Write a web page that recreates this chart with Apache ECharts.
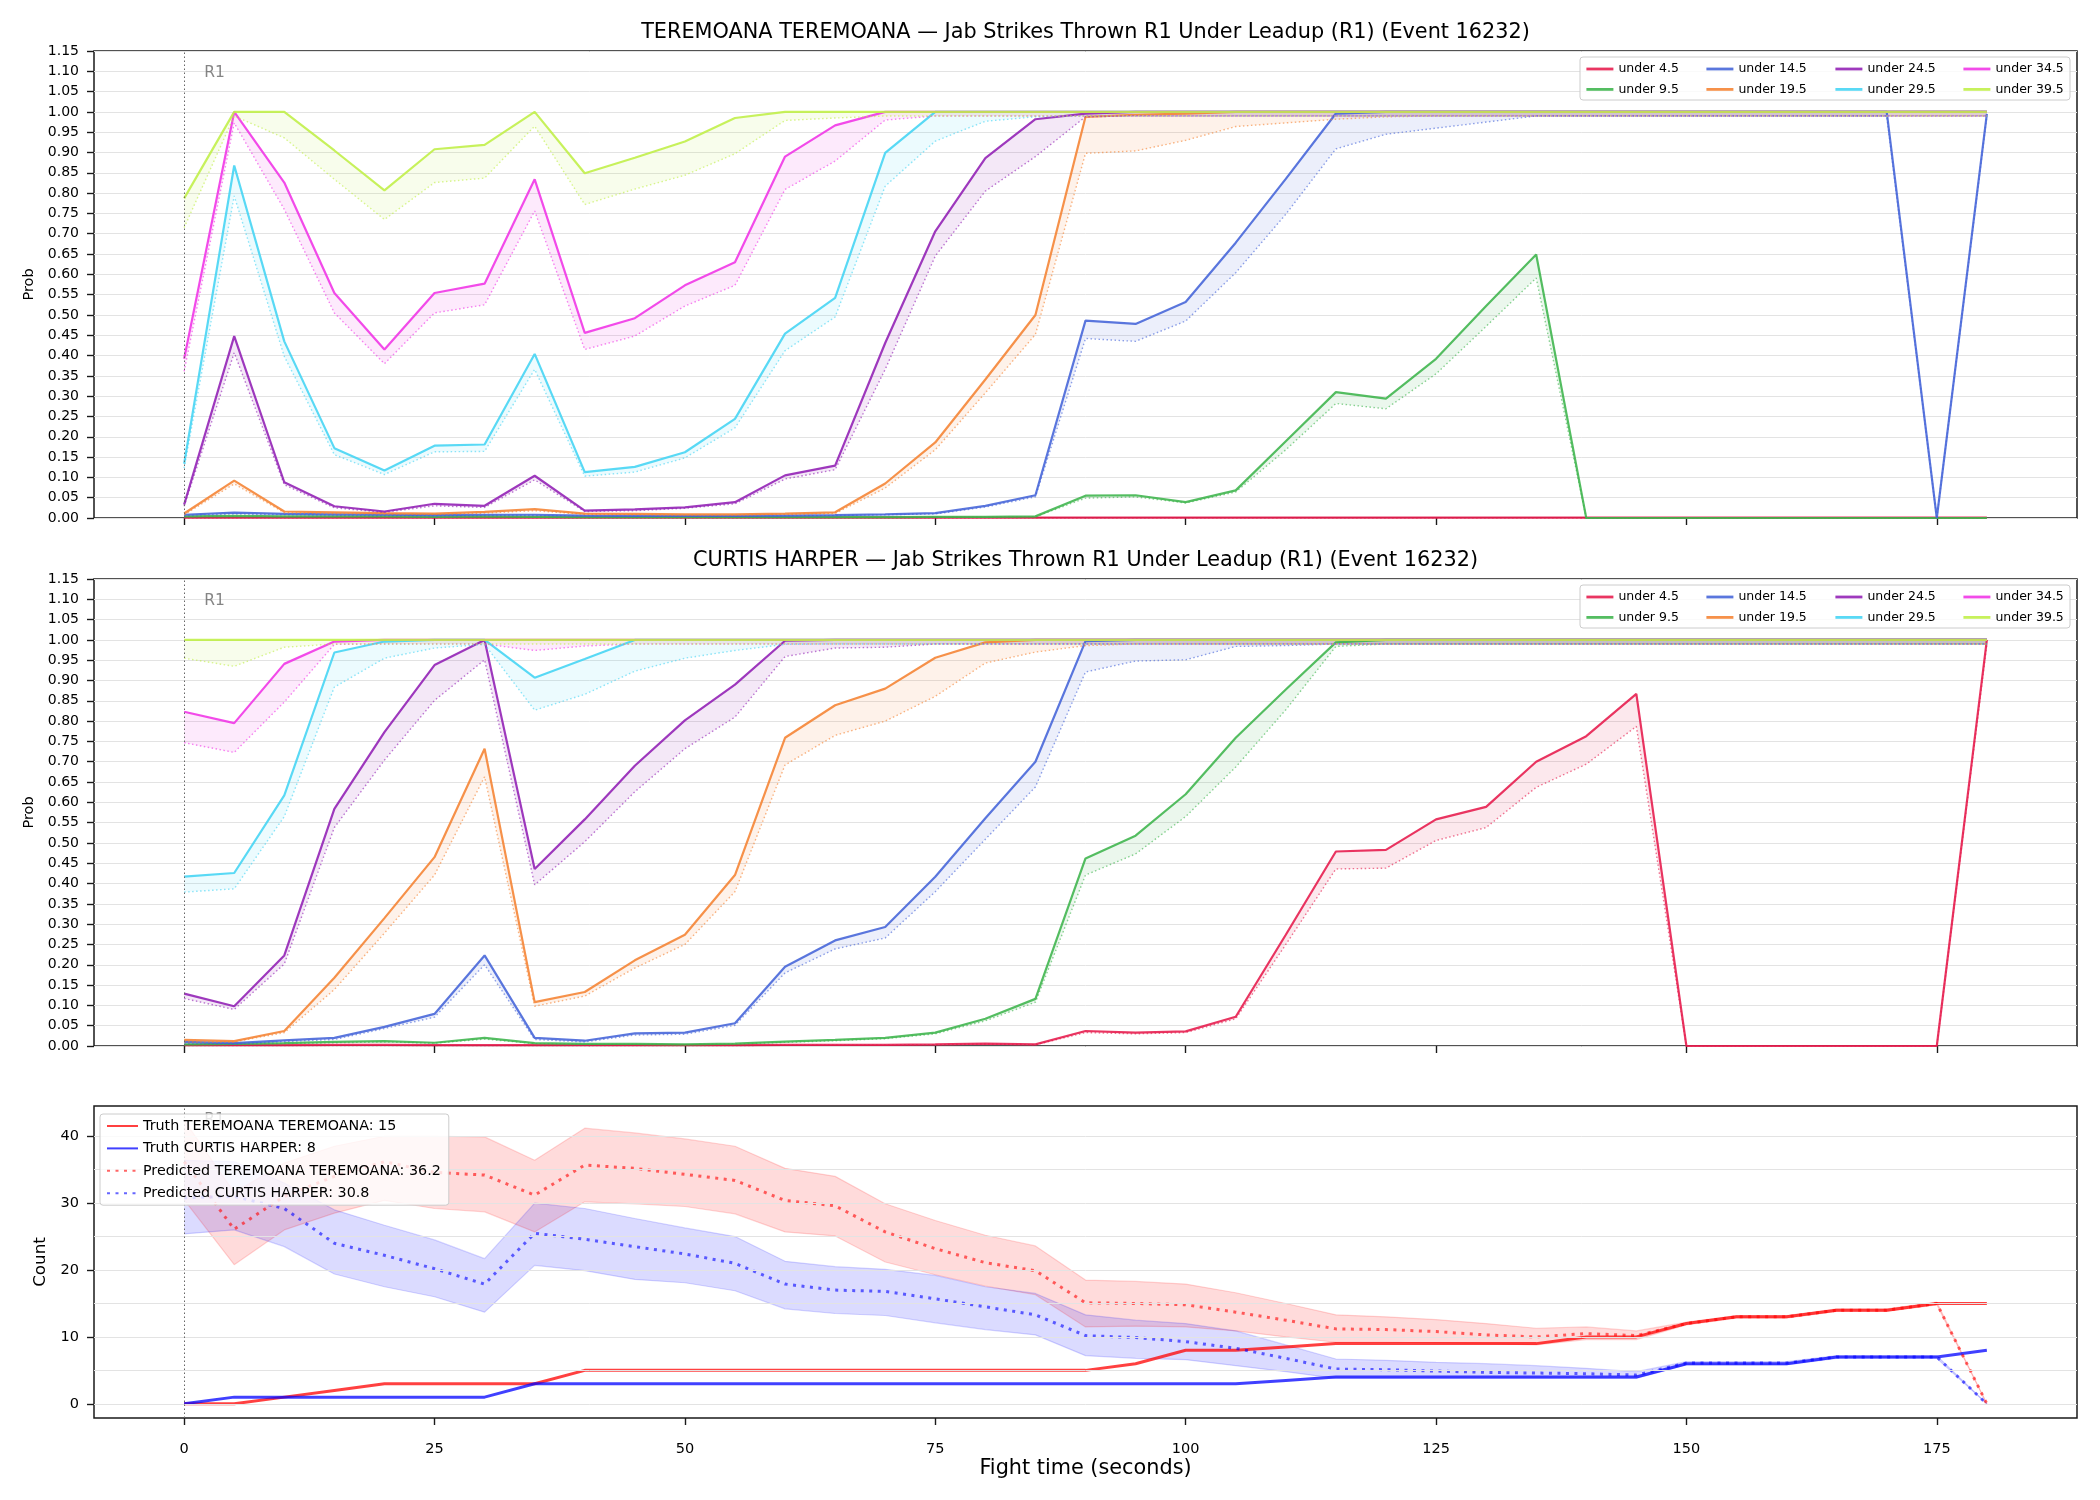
<!DOCTYPE html>
<html>
<head>
<meta charset="utf-8">
<script src="https://cdn.jsdelivr.net/npm/echarts@6/dist/echarts.min.js"></script>
<style>
  html, body { margin: 0; background: #fff; }
  #chart { width: 2100px; height: 1500px; }
</style>
</head>
<body>
<div id="chart"></div>
<script>
// fight time axis (seconds)
var TIMES = [0,5,10,15,20,25,30,35,40,45,50,55,60,65,70,75,80,85,90,95,100,105,110,115,120,125,130,135,140,145,150,155,160,165,170,175,180];
var X_TICKS = [0,25,50,75,100,125,150,175];
var PROB_TICK_STEP = 0.05;
var COUNT_TICKS = [0,10,20,30,40];
var COUNT_GRID = [0,5,10,15,20,25,30,35,40];

var FIGHTERS = ['TEREMOANA TEREMOANA', 'CURTIS HARPER'];
var METRIC = 'Jab Strikes Thrown R1 Under Leadup (R1) (Event 16232)';
var THRESHOLDS = ['under 4.5','under 9.5','under 14.5','under 19.5','under 24.5','under 29.5','under 34.5','under 39.5'];
var COLORS = ['#e6194b','#3cb44b','#4363d8','#f58231','#911eb4','#42d4f4','#f032e6','#bfef45'];

// ---- TEREMOANA: probability (solid) and lower (dotted) per threshold
var T_U45 = [0.001,0.001,0.001,0.001,0.001,0.001,0.001,0.001,0.001,0.001,
  0.001,0.001,0.001,0.001,0.001,0.001,0.001,0.001,0.001,0.001,
  0.001,0.001,0.001,0.001,0.001,0.001,0.001,0.001,0.001,0.001,
  0.001,0.001,0.001,0.001,0.001,0.001,0.001];
var T_U45_LO = [0,0,0,0,0,0,0,0,0,0, 0,0,0,0,0,0,0,0,0,0, 0,0,0,0,0,0,0,0,0,0, 0,0,0,0,0,0,0];
var T_U95 = [0.004,0.005,0.004,0.004,0.004,0.003,0.004,0.003,0.002,0.002,
  0.002,0.002,0.002,0.002,0.002,0.003,0.003,0.004,0.055,0.056,
  0.039,0.068,0.189,0.310,0.294,0.392,0.522,0.649,0,0,
  0,0,0,0,0,0,0];
var T_U95_LO = [0.003,0.004,0.003,0.003,0.003,0.002,0.003,0.002,0.001,0.001,
  0.001,0.001,0.001,0.001,0.001,0.002,0.002,0.003,0.049,0.052,
  0.037,0.064,0.168,0.282,0.269,0.355,0.472,0.591,0,0,
  0,0,0,0,0,0,0];
var T_U145 = [0.008,0.013,0.010,0.009,0.008,0.007,0.008,0.008,0.006,0.005,
  0.005,0.005,0.006,0.007,0.009,0.012,0.030,0.056,0.486,0.478,
  0.532,0.678,0.835,0.996,1,1,1,1,1,1,
  1,1,1,1,1,0,0.995];
var T_U145_LO = [0.006,0.010,0.008,0.007,0.006,0.005,0.006,0.006,0.005,0.004,
  0.004,0.004,0.005,0.006,0.008,0.010,0.027,0.052,0.442,0.435,
  0.485,0.604,0.748,0.909,0.945,0.960,0.975,0.990,0.99,0.99,
  0.99,0.99,0.99,0.99,0.99,0,0.99];
var T_U195 = [0.011,0.092,0.016,0.014,0.012,0.011,0.015,0.022,0.011,0.010,
  0.009,0.009,0.011,0.014,0.085,0.186,0.341,0.500,0.988,0.993,
  0.996,1,1,1,1,1,1,1,1,1,
  1,1,1,1,1,1,1];
var T_U195_LO = [0.008,0.084,0.013,0.011,0.010,0.009,0.012,0.018,0.009,0.008,
  0.007,0.007,0.009,0.011,0.074,0.168,0.308,0.452,0.898,0.904,
  0.930,0.964,0.973,0.982,0.988,0.99,0.99,0.99,0.99,0.99,
  0.99,0.99,0.99,0.99,0.99,0.99,0.99];
var T_U245 = [0.033,0.448,0.088,0.029,0.016,0.035,0.030,0.104,0.018,0.021,
  0.026,0.039,0.105,0.129,0.431,0.706,0.886,0.982,0.996,1,
  1,1,1,1,1,1,1,1,1,1,
  1,1,1,1,1,1,1];
var T_U245_LO = [0.029,0.407,0.082,0.025,0.014,0.030,0.026,0.094,0.016,0.018,
  0.024,0.035,0.096,0.119,0.366,0.645,0.805,0.890,0.988,0.99,
  0.99,0.99,0.99,0.99,0.99,0.99,0.99,0.99,0.99,0.99,
  0.99,0.99,0.99,0.99,0.99,0.99,0.99];
var T_U295 = [0.134,0.868,0.435,0.172,0.117,0.178,0.181,0.404,0.113,0.126,
  0.162,0.244,0.454,0.542,0.899,1,1,1,1,1,
  1,1,1,1,1,1,1,1,1,1,
  1,1,1,1,1,1,1];
var T_U295_LO = [0.123,0.793,0.398,0.156,0.107,0.163,0.164,0.366,0.103,0.113,
  0.148,0.222,0.412,0.495,0.817,0.928,0.977,0.988,0.99,0.99,
  0.99,0.99,0.99,0.99,0.99,0.99,0.99,0.99,0.99,0.99,
  0.99,0.99,0.99,0.99,0.99,0.99,0.99];
var T_U345 = [0.392,1,0.826,0.554,0.415,0.554,0.577,0.834,0.456,0.492,
  0.573,0.630,0.890,0.967,1,1,1,1,1,1,
  1,1,1,1,1,1,1,1,1,1,
  1,1,1,1,1,1,1];
var T_U345_LO = [0.361,0.973,0.760,0.505,0.380,0.505,0.525,0.756,0.415,0.448,
  0.522,0.573,0.809,0.879,0.980,0.99,0.99,0.99,0.99,0.99,
  0.99,0.99,0.99,0.99,0.99,0.99,0.99,0.99,0.99,0.99,
  0.99,0.99,0.99,0.99,0.99,0.99,0.99];
var T_U395 = [0.787,1,1,0.905,0.807,0.908,0.919,1,0.849,0.887,
  0.927,0.985,1,1,1,1,1,1,1,1,
  1,1,1,1,1,1,1,1,1,1,
  1,1,1,1,1,1,1];
var T_U395_LO = [0.715,0.990,0.936,0.834,0.735,0.826,0.837,0.965,0.772,0.810,
  0.844,0.897,0.979,0.985,0.99,0.99,0.99,0.99,0.99,0.99,
  0.99,0.99,0.99,0.99,0.99,0.99,0.99,0.99,0.99,0.99,
  0.99,0.99,0.99,0.99,0.99,0.99,0.99];

// ---- CURTIS HARPER
var C_U45 = [0.002,0.002,0.002,0.003,0.003,0.002,0.002,0.002,0.002,0.002,
  0.002,0.002,0.003,0.003,0.003,0.004,0.006,0.004,0.037,0.033,
  0.036,0.072,0.274,0.479,0.483,0.558,0.589,0.700,0.763,0.867,
  0,0,0,0,0,0,1];
var C_U45_LO = [0.001,0.001,0.001,0.001,0.001,0.001,0.001,0.001,0.001,0.001,
  0.001,0.001,0.002,0.002,0.002,0.003,0.005,0.003,0.033,0.030,
  0.033,0.067,0.250,0.436,0.438,0.506,0.538,0.637,0.694,0.787,
  0,0,0,0,0,0,0.99];
var C_U95 = [0.004,0.005,0.007,0.010,0.012,0.008,0.020,0.007,0.005,0.005,
  0.004,0.006,0.011,0.015,0.020,0.033,0.067,0.116,0.462,0.518,
  0.620,0.759,0.878,0.994,1,1,1,1,1,1,
  1,1,1,1,1,1,1];
var C_U95_LO = [0.003,0.004,0.006,0.008,0.010,0.007,0.017,0.006,0.004,0.004,
  0.003,0.005,0.009,0.013,0.018,0.030,0.062,0.108,0.421,0.473,
  0.565,0.687,0.828,0.984,0.99,0.99,0.99,0.99,0.99,0.99,
  0.99,0.99,0.99,0.99,0.99,0.99,0.99];
var C_U145 = [0.010,0.007,0.014,0.020,0.047,0.079,0.223,0.020,0.013,0.031,
  0.033,0.056,0.195,0.260,0.293,0.417,0.561,0.700,0.997,1,
  1,1,1,1,1,1,1,1,1,1,
  1,1,1,1,1,1,1];
var C_U145_LO = [0.007,0.005,0.011,0.016,0.043,0.071,0.200,0.016,0.010,0.027,
  0.029,0.051,0.180,0.239,0.266,0.380,0.509,0.638,0.921,0.948,
  0.951,0.984,0.986,0.99,0.99,0.99,0.99,0.99,0.99,0.99,
  0.99,0.99,0.99,0.99,0.99,0.99,0.99];
var C_U195 = [0.015,0.012,0.037,0.168,0.315,0.465,0.732,0.108,0.133,0.211,
  0.274,0.421,0.759,0.839,0.880,0.956,0.994,1,1,1,
  1,1,1,1,1,1,1,1,1,1,
  1,1,1,1,1,1,1];
var C_U195_LO = [0.010,0.010,0.033,0.139,0.278,0.421,0.663,0.098,0.123,0.192,
  0.250,0.380,0.692,0.765,0.800,0.861,0.943,0.970,0.986,0.99,
  0.99,0.99,0.99,0.99,0.99,0.99,0.99,0.99,0.99,0.99,
  0.99,0.99,0.99,0.99,0.99,0.99,0.99];
var C_U245 = [0.129,0.098,0.223,0.584,0.773,0.938,1,0.436,0.558,0.690,
  0.802,0.890,0.998,1,1,1,1,1,1,1,
  1,1,1,1,1,1,1,1,1,1,
  1,1,1,1,1,1,1];
var C_U245_LO = [0.117,0.090,0.202,0.538,0.704,0.851,0.951,0.397,0.503,0.626,
  0.732,0.810,0.959,0.980,0.982,0.99,0.99,0.99,0.99,0.99,
  0.99,0.99,0.99,0.99,0.99,0.99,0.99,0.99,0.99,0.99,
  0.99,0.99,0.99,0.99,0.99,0.99,0.99];
var C_U295 = [0.417,0.426,0.617,0.969,0.996,1,1,0.907,0.953,1,
  1,1,1,1,1,1,1,1,1,1,
  1,1,1,1,1,1,1,1,1,1,
  1,1,1,1,1,1,1];
var C_U295_LO = [0.379,0.387,0.565,0.884,0.955,0.980,0.989,0.827,0.866,0.923,
  0.955,0.974,0.989,0.99,0.99,0.99,0.99,0.99,0.99,0.99,
  0.99,0.99,0.99,0.99,0.99,0.99,0.99,0.99,0.99,0.99,
  0.99,0.99,0.99,0.99,0.99,0.99,0.99];
var C_U345 = [0.823,0.795,0.941,0.996,1,1,1,1,1,1,
  1,1,1,1,1,1,1,1,1,1,
  1,1,1,1,1,1,1,1,1,1,
  1,1,1,1,1,1,1];
var C_U345_LO = [0.747,0.723,0.847,0.989,0.99,0.99,0.99,0.974,0.985,0.99,
  0.99,0.99,0.99,0.99,0.99,0.99,0.99,0.99,0.99,0.99,
  0.99,0.99,0.99,0.99,0.99,0.99,0.99,0.99,0.99,0.99,
  0.99,0.99,0.99,0.99,0.99,0.99,0.99];
var C_U395 = [1,1,1,1,1,1,1,1,1,1,
  1,1,1,1,1,1,1,1,1,1,
  1,1,1,1,1,1,1,1,1,1,
  1,1,1,1,1,1,1];
var C_U395_LO = [0.955,0.935,0.982,0.99,0.99,0.99,0.99,0.99,0.99,0.99,
  0.99,0.99,0.99,0.99,0.99,0.99,0.99,0.99,0.99,0.99,
  0.99,0.99,0.99,0.99,0.99,0.99,0.99,0.99,0.99,0.99,
  0.99,0.99,0.99,0.99,0.99,0.99,0.99];

// ---- counts panel
var TRUTH_A = [0,0,1,2,3,3,3,3,5,5, 5,5,5,5,5,5,5,5,5,6, 8,8,8.5,9,9,9,9,9,10,10, 12,13,13,14,14,15,15];
var TRUTH_B = [0,1,1,1,1,1,1,3,3,3, 3,3,3,3,3,3,3,3,3,3, 3,3,3.5,4,4,4,4,4,4,4, 6,6,6,7,7,7,8];
var PRED_A = [36.2,26.1,31.0,34.0,36.2,34.6,34.2,31.2,35.7,35.2,
  34.3,33.4,30.4,29.6,25.7,23.2,21.1,19.9,15.1,15.0,
  14.8,13.7,12.5,11.2,11.1,10.8,10.3,10.0,10.5,10.2,
  12.0,13.0,13.0,14.0,14.0,15.0,0];
var PRED_B = [30.8,31.0,29.2,24.0,22.2,20.2,17.9,25.5,24.6,23.5,
  22.4,21.0,17.9,17.0,16.8,15.7,14.5,13.3,10.2,9.9,
  9.3,8.3,6.8,5.2,5.1,4.9,4.7,4.6,4.5,4.3,
  6.1,6.1,6.1,7.0,7.0,7.0,0];
var HIGH_A = [42.4,31.6,36.0,38.5,40.0,40.0,39.9,36.4,41.2,40.5,
  39.6,38.5,35.2,34.0,29.9,27.4,25.2,23.6,18.5,18.3,
  17.9,16.6,15.0,13.3,13.0,12.6,12.0,11.3,11.5,10.9,
  12.2,13.2,13.2,14.2,14.2,15.2,0];
var LOW_A = [30.5,20.8,26.0,28.5,30.4,29.2,28.7,25.7,30.2,29.9,
  29.5,28.4,25.7,25.1,21.2,19.3,17.6,16.3,11.5,11.6,
  11.5,10.9,10.0,9.2,9.2,9.1,9.0,8.8,9.6,9.6,
  11.8,12.8,12.8,13.8,13.8,14.8,0];
var HIGH_B = [36.4,36.2,33.0,29.0,26.7,24.5,21.7,30.0,29.2,27.7,
  26.3,25.0,21.3,20.5,20.1,19.2,17.5,16.5,13.3,12.5,
  12.0,10.9,8.8,6.7,6.5,6.2,6.0,5.7,5.3,4.8,
  6.3,6.3,6.3,7.2,7.2,7.2,0];
var LOW_B = [25.4,26.0,23.5,19.4,17.5,16.0,13.7,20.7,19.9,18.6,
  18.1,16.9,14.2,13.5,13.2,12.1,11.1,10.3,7.2,6.8,
  6.6,5.7,4.8,3.8,3.8,3.8,3.8,3.8,3.8,3.8,
  5.8,5.8,5.8,6.8,6.8,6.8,0];

var PROB_HI = [
  [T_U45, T_U95, T_U145, T_U195, T_U245, T_U295, T_U345, T_U395],
  [C_U45, C_U95, C_U145, C_U195, C_U245, C_U295, C_U345, C_U395]
];
var PROB_LO = [
  [T_U45_LO, T_U95_LO, T_U145_LO, T_U195_LO, T_U245_LO, T_U295_LO, T_U345_LO, T_U395_LO],
  [C_U45_LO, C_U95_LO, C_U145_LO, C_U195_LO, C_U245_LO, C_U295_LO, C_U345_LO, C_U395_LO]
];

// layout (px)
var GRID_LEFT = 94, GRID_W = 1983;
var GRID_TOPS = [51, 579, 1106];
var GRID_HS = [467, 467, 312];
var PLOT_CX = GRID_LEFT + GRID_W / 2;
var LEGEND_COL_X = [1585, 1705, 1834, 1962];
var R1_POS = [[2, 1.095], [2, 1.095], [2, 42.4]];

function pairs(ys) {
  return TIMES.map(function (t, i) { return [t, ys[i]]; });
}

// filled region between two curves, drawn through the axis scales
function bandSeries(g, lo, hi, fill, opacity) {
  return {
    type: 'custom', coordinateSystem: 'cartesian2d', xAxisIndex: g, yAxisIndex: g,
    data: [[TIMES[0], lo[0]]], silent: true, z: 1,
    renderItem: function (params, api) {
      var pts = [];
      for (var i = 0; i < TIMES.length; i++) pts.push(api.coord([TIMES[i], hi[i]]));
      for (var j = TIMES.length - 1; j >= 0; j--) pts.push(api.coord([TIMES[j], lo[j]]));
      return { type: 'polygon', shape: { points: pts }, style: { fill: fill, opacity: opacity } };
    }
  };
}

var chart = echarts.init(document.getElementById('chart'));

var grids = GRID_TOPS.map(function (top, i) {
  return { left: GRID_LEFT, top: top, width: GRID_W, height: GRID_HS[i],
    show: true, borderColor: '#1a1a1a', borderWidth: 1.5, backgroundColor: 'transparent' };
});

var xAxes = [0, 1, 2].map(function (i) {
  return {
    type: 'value', gridIndex: i, min: -9, max: 189,
    axisLine: { show: false, onZero: false },
    axisTick: { show: true, customValues: X_TICKS, length: 7, lineStyle: { color: '#1a1a1a', width: 1.4 } },
    axisLabel: { show: i === 2, customValues: X_TICKS, fontSize: 14.5, color: '#000', margin: 24 },
    splitLine: { show: false },
    name: i === 2 ? 'Fight time (seconds)' : '',
    nameLocation: 'middle', nameGap: 38,
    nameTextStyle: { fontSize: 20.8, color: '#000' }
  };
});

var yAxes = [0, 1].map(function (i) {
  return {
    type: 'value', gridIndex: i, min: 0, max: 1.15, interval: PROB_TICK_STEP,
    axisLine: { show: false, onZero: false },
    axisTick: { show: true, length: 7, lineStyle: { color: '#1a1a1a', width: 1.4 } },
    axisLabel: { fontSize: 14, color: '#000', margin: 15, formatter: function (v) { return v.toFixed(2); } },
    splitLine: { show: true, lineStyle: { color: '#e3e3e3', width: 1 } },
    name: 'Prob', nameLocation: 'middle', nameGap: 57,
    nameTextStyle: { fontSize: 14.5, color: '#000' }
  };
});
yAxes.push({
  type: 'value', gridIndex: 2, min: -2.12, max: 44.52,
  axisLine: { show: false, onZero: false },
  axisTick: { show: true, customValues: COUNT_TICKS, length: 7, lineStyle: { color: '#1a1a1a', width: 1.4 } },
  axisLabel: { customValues: COUNT_TICKS, fontSize: 14.5, color: '#000', margin: 15 },
  splitLine: { show: false },
  name: 'Count', nameLocation: 'middle', nameGap: 44,
  nameTextStyle: { fontSize: 16.7, color: '#000' }
});

var series = [];

// count panel grid lines + round markers
series.push({
  type: 'line', xAxisIndex: 2, yAxisIndex: 2, data: [[0, 0]], symbol: 'none', silent: true, z: 0,
  lineStyle: { opacity: 0 },
  markLine: { silent: true, symbol: ['none', 'none'], label: { show: false },
    lineStyle: { color: '#e3e3e3', width: 1, type: 'solid' },
    data: COUNT_GRID.map(function (v) { return { yAxis: v }; }) }
});
[0, 1, 2].forEach(function (g) {
  series.push({
    type: 'line', xAxisIndex: g, yAxisIndex: g, data: [[0, 0]], symbol: 'none', silent: true, z: 2,
    lineStyle: { opacity: 0 },
    markLine: { silent: true, symbol: ['none', 'none'], label: { show: false },
      lineStyle: { color: '#666', width: 1, type: [1.5, 2.5] },
      data: [{ xAxis: 0 }] }
  });
  series.push({
    type: 'scatter', xAxisIndex: g, yAxisIndex: g, data: [R1_POS[g]], symbolSize: 0.1, silent: true, z: 4,
    itemStyle: { color: 'rgba(0,0,0,0)' },
    label: { show: true, formatter: 'R1', position: 'right', distance: 0, color: '#666', fontSize: 15.5 }
  });
});

// probability panels
[0, 1].forEach(function (p) {
  THRESHOLDS.forEach(function (name, k) {
    series.push(bandSeries(p, PROB_LO[p][k], PROB_HI[p][k], COLORS[k], 0.1));
  });
  THRESHOLDS.forEach(function (name, k) {
    series.push({ type: 'line', name: name, xAxisIndex: p, yAxisIndex: p, data: pairs(PROB_HI[p][k]),
      symbol: 'none', color: COLORS[k], z: 3, emphasis: { disabled: true },
      lineStyle: { color: COLORS[k], width: 2.2, opacity: 0.88 } });
    series.push({ type: 'line', xAxisIndex: p, yAxisIndex: p, data: pairs(PROB_LO[p][k]),
      symbol: 'none', z: 3, silent: true,
      lineStyle: { color: COLORS[k], width: 1.4, type: [1.5, 2.5], opacity: 0.6 } });
  });
});

// counts panel
var BANDS = [
  { lo: LOW_A, hi: HIGH_A, rgb: '255,0,0' },
  { lo: LOW_B, hi: HIGH_B, rgb: '0,0,255' }
];
BANDS.forEach(function (b) {
  series.push(bandSeries(2, b.lo, b.hi, 'rgb(' + b.rgb + ')', 0.14));
  [b.lo, b.hi].forEach(function (edge) {
    series.push({ type: 'line', xAxisIndex: 2, yAxisIndex: 2, data: pairs(edge), symbol: 'none', silent: true, z: 1,
      lineStyle: { color: 'rgba(' + b.rgb + ',0.16)', width: 1.2 } });
  });
});

var COUNT_NAMES = [
  'Truth ' + FIGHTERS[0] + ': ' + TRUTH_A[TRUTH_A.length - 1],
  'Truth ' + FIGHTERS[1] + ': ' + TRUTH_B[TRUTH_B.length - 1],
  'Predicted ' + FIGHTERS[0] + ': ' + PRED_A[0].toFixed(1),
  'Predicted ' + FIGHTERS[1] + ': ' + PRED_B[0].toFixed(1)
];
[[TRUTH_A, '255,0,0'], [TRUTH_B, '0,0,255']].forEach(function (s, k) {
  series.push({ type: 'line', name: COUNT_NAMES[k], xAxisIndex: 2, yAxisIndex: 2, data: pairs(s[0]),
    symbol: 'none', z: 3, color: 'rgba(' + s[1] + ',0.75)',
    lineStyle: { color: 'rgba(' + s[1] + ',0.75)', width: 3 } });
});
[[PRED_A, '255,0,0'], [PRED_B, '0,0,255']].forEach(function (s, k) {
  series.push({ type: 'line', name: COUNT_NAMES[k + 2], xAxisIndex: 2, yAxisIndex: 2, data: pairs(s[0]),
    symbol: 'none', z: 3, color: 'rgba(' + s[1] + ',0.6)',
    lineStyle: { color: 'rgba(' + s[1] + ',0.6)', width: 3, type: [3, 5.5] } });
});

// legends
var legends = [];
[0, 1].forEach(function (p) {
  for (var c = 0; c < 4; c++) {
    legends.push({
      data: [THRESHOLDS[2 * c], THRESHOLDS[2 * c + 1]],
      orient: 'vertical', left: LEGEND_COL_X[c], top: GRID_TOPS[p] + 11.5,
      padding: 0, itemWidth: 27, itemHeight: 10, itemGap: 7.4,
      itemStyle: { opacity: 0 },
      lineStyle: { width: 2.8 },
      textStyle: { fontSize: 12.5, lineHeight: 12, color: '#000' },
      selectedMode: false, z: 10
    });
  }
});
legends.push({
  data: COUNT_NAMES, orient: 'vertical', left: 100, top: 1114,
  padding: [5, 8, 5, 6], itemWidth: 31, itemHeight: 14, itemGap: 8.4,
  itemStyle: { opacity: 0 },
  textStyle: { fontSize: 14.3, lineHeight: 14, color: '#000' },
  backgroundColor: 'rgba(255,255,255,0.8)', borderColor: '#cccccc', borderWidth: 1, borderRadius: 3,
  selectedMode: false, z: 10
});

var graphics = [];
[0, 1].forEach(function (p) {
  graphics.push({ type: 'text', x: PLOT_CX, y: GRID_TOPS[p] - 18.5, z: 10,
    style: { text: FIGHTERS[p] + ' — ' + METRIC, fontSize: 20.8, fontFamily: 'DejaVu Sans',
      fill: '#000', align: 'center', verticalAlign: 'middle' } });
  graphics.push({ type: 'rect', x: 1580, y: GRID_TOPS[p] + 6, z: 9,
    shape: { width: 490, height: 43, r: 3 },
    style: { fill: 'rgba(255,255,255,0.8)', stroke: '#cccccc', lineWidth: 1 } });
});

chart.setOption({
  animation: false,
  backgroundColor: '#fff',
  textStyle: { fontFamily: 'DejaVu Sans' },
  grid: grids,
  xAxis: xAxes,
  yAxis: yAxes,
  legend: legends,
  graphic: graphics,
  series: series
});
</script>
</body>
</html>
